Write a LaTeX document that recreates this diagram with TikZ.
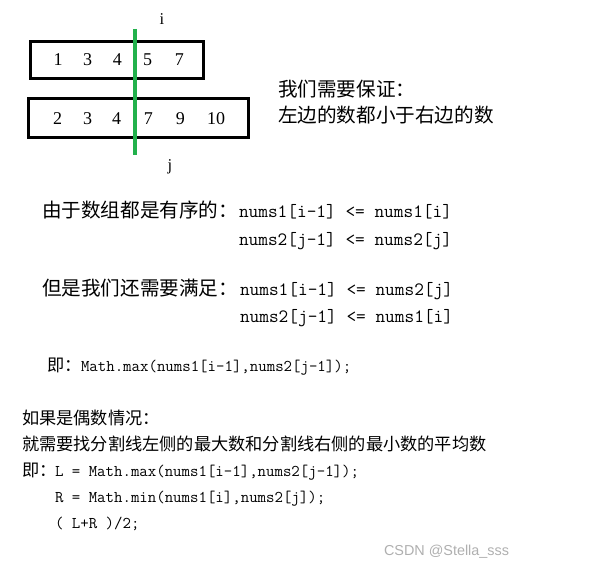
\documentclass[tikz,border=0pt]{standalone}
\usepackage{fontspec}
\setmainfont{Liberation Serif}
\newfontfamily\cjk{Noto Sans CJK SC}
\newfontfamily\wmfont{Liberation Sans}
\definecolor{splitgreen}{RGB}{34,177,76}
\definecolor{wmgray}{RGB}{175,175,175}
\begin{document}
\begin{tikzpicture}[x=1pt,y=-1pt,
  every node/.style={inner sep=0pt, outer sep=0pt},
  digit/.style={anchor=base, font=\fontsize{18}{20}\selectfont},
  idx/.style={anchor=base, font=\fontsize{16.5}{18}\selectfont},
  cjkbig/.style={anchor=base west, font=\cjk\fontsize{19.6}{24}\selectfont},
  codebig/.style={anchor=base west, font=\ttfamily\fontsize{18.8}{22}\selectfont},
  cjksmall/.style={anchor=base west, font=\cjk\fontsize{17.2}{21}\selectfont},
  codesmall/.style={anchor=base west, font=\ttfamily\fontsize{16.4}{20}\selectfont},
  watermark/.style={anchor=base west, font=\wmfont\fontsize{14.4}{17}\selectfont, text=wmgray},
  arraybox/.style={draw, line width=3pt},
  splitline/.style={draw=splitgreen, line width=3.3pt}]
\useasboundingbox (0,0) rectangle (604,567);
% arrays
\draw[arraybox] (30.5,42) rectangle (203,79);
\draw[arraybox] (28,99) rectangle (248,137);
\node[digit] (a1) at (58,65.7) {1};
\node[digit] (a2) at (87.7,65.7) {3};
\node[digit] (a3) at (117.3,65.7) {4};
\node[digit] (a4) at (147.7,65.7) {5};
\node[digit] (a5) at (179.3,65.7) {7};
\node[digit] (b1) at (57.7,124.5) {2};
\node[digit] (b2) at (87.7,124.5) {3};
\node[digit] (b3) at (116.7,124.5) {4};
\node[digit] (b4) at (148.3,124.5) {7};
\node[digit] (b5) at (180.3,124.5) {9};
\node[digit] (b6) at (216,124.5) {10};
% split line
\coordinate (gtop) at (135,29);
\coordinate (gbot) at (135,155);
\draw[splitline] (gtop) -- (gbot);
\node[idx] (ilab) at (162,25) {i};
\node[idx] (jlab) at (170,170.5) {j};
% right note
\node[cjkbig] (note1) at (278,97) {我们需要保证：};
\node[cjkbig] (note2) at (278,122) {左边的数都小于右边的数};
% ordered
\node[cjkbig] (ord) at (42,217) {由于数组都是有序的：};
\node[codebig] (ord1) at (239,217) {nums1[i-1] <= nums1[i]};
\node[codebig] (ord2) at (239,245) {nums2[j-1] <= nums2[j]};
% need
\node[cjkbig] (need) at (42,295) {但是我们还需要满足：};
\node[codebig] (need1) at (240,295) {nums1[i-1] <= nums2[j]};
\node[codebig] (need2) at (240,322) {nums2[j-1] <= nums1[i]};
% odd
\node[cjksmall] (ji1) at (47,371.7) {即：};
\node[codesmall] (max1) at (81,371.7) {Math.max(nums1[i-1],nums2[j-1]);};
% even
\node[cjksmall] (even1) at (22,424) {如果是偶数情况：};
\node[cjksmall] (even2) at (22,450.5) {就需要找分割线左侧的最大数和分割线右侧的最小数的平均数};
\node[cjksmall] (ji2) at (22,476) {即：};
\node[codesmall] (lval) at (55,476) {L = Math.max(nums1[i-1],nums2[j-1]);};
\node[codesmall] (rval) at (55,502.7) {R = Math.min(nums1[i],nums2[j]);};
\node[codesmall] (avg) at (55,528.3) {( L+R )/2;};
% watermark
\node[watermark] (wm) at (384,555) {CSDN @Stella\_sss};
\end{tikzpicture}
\end{document}
